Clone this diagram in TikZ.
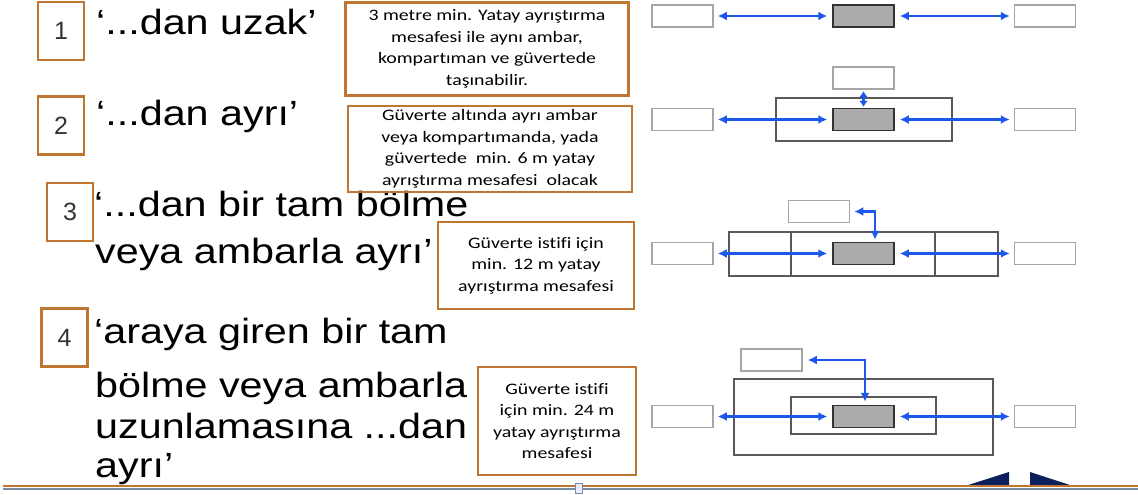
\documentclass[tikz,border=0pt]{standalone}
\usepackage{fontspec}
\setmainfont{Liberation Sans}
\newfontfamily\bigfont[FakeStretch=1.18]{Liberation Sans}
\newfontfamily\notefont[FakeStretch=1.24,Ligatures=NoCommon]{Carlito}
\usetikzlibrary{arrows.meta}
\definecolor{boxorange}{RGB}{192,118,48}
\definecolor{arrowblue}{RGB}{28,88,235}
\definecolor{cargogray}{RGB}{171,171,171}
\definecolor{navblue}{RGB}{12,32,92}
\definecolor{rulegray}{RGB}{120,140,165}
\tikzstyle{numbox} = [draw=boxorange, line width=2.5pt, minimum width=46pt,
    minimum height=58pt, inner sep=0pt, text=black!80,
    font=\fontsize{25}{25}\selectfont]
\tikzstyle{notebox} = [draw=boxorange, line width=2.5pt, inner sep=0pt,
    align=center, font=\notefont\fontsize{16}{21.5}\selectfont]
\tikzstyle{heading} = [anchor=base west, inner sep=0pt,
    font=\bigfont\fontsize{35}{40}\selectfont]
\tikzstyle{slot} = [draw=gray!70, line width=1.5pt, fill=white,
    minimum width=61pt, minimum height=22pt, inner sep=0pt]
\tikzstyle{cargo} = [slot, draw=gray!40!black, fill=cargogray]
\tikzstyle{hold} = [draw=black!65, line width=1.4pt, inner sep=0pt]
\tikzstyle{sep} = [arrowblue, line width=2.2pt,
    {Latex[length=9pt,width=9pt]}-{Latex[length=9pt,width=9pt]}]
\tikzstyle{shortsep} = [arrowblue, line width=2.2pt,
    {Latex[length=6pt,width=9pt]}-{Latex[length=6pt,width=9pt]}]

\begin{document}
\begin{tikzpicture}[x=1pt,y=-1pt]
  \useasboundingbox (0,0) rectangle (1138,495);

  % numbered boxes
  \node[numbox] (n1) at (61,31) {1};
  \node[numbox] (n2) at (61,125.5) {2};
  \node[numbox] (n3) at (70,212) {3};
  \node[numbox] (n4) at (64.5,337.5) {4};

  % headings
  \node[heading] (h1) at (96,35) {‘...dan uzak’};
  \node[heading] (h2) at (96,125) {‘...dan ayrı’};
  \node[heading] (h3a) at (94,216) {‘...dan bir tam bölme};
  \node[heading] (h3b) at (95,263) {veya ambarla ayrı’};
  \node[heading] (h4a) at (94,343) {‘araya giren bir tam};
  \node[heading] (h4b) at (95,397) {bölme veya ambarla};
  \node[heading] (h4c) at (95,438) {uzunlamasına ...dan};
  \node[heading] (h4d) at (95,477) {ayrı’};

  % notes
  \node[notebox, minimum width=283pt, minimum height=93pt] (t1) at (487,49)
    {3 metre min. Yatay ayrıştırma\\mesafesi ile aynı ambar,\\kompartıman ve güvertede\\taşınabilir.};
  \node[notebox, minimum width=284pt, minimum height=86pt] (t2) at (490,149)
    {Güverte altında ayrı ambar\\veya kompartımanda, yada\\güvertede~ min. 6 m yatay\\ayrıştırma mesafesi~ olacak};
  \node[notebox, minimum width=196pt, minimum height=87pt] (t3) at (536,265.5)
    {Güverte istifi için\\min. 12 m yatay\\ayrıştırma mesafesi};
  \node[notebox, minimum width=158pt, minimum height=108pt] (t4) at (557,421)
    {Güverte istifi\\için min. 24 m\\yatay ayrıştırma\\mesafesi};

  % row 1
  \node[slot] (l1) at (682.5,16) {};
  \node[cargo] (c1) at (863.5,16) {};
  \node[slot] (r1) at (1045,16) {};
  \draw[sep, shorten <=4pt, shorten >=5pt] (l1) -- (c1);
  \draw[sep, shorten <=5pt, shorten >=4pt] (c1) -- (r1);

  % row 2
  \node[hold, minimum width=176pt, minimum height=43pt] (k2) at (864,119.5) {};
  \node[slot] (l2) at (682.5,119.5) {};
  \node[cargo] (c2) at (863.5,119.5) {};
  \node[slot] (r2) at (1045,119.5) {};
  \node[slot] (u2) at (863.5,78) {};
  \draw[shortsep, shorten <=1.5pt, shorten >=1pt] (u2) -- (c2);
  \draw[sep, shorten <=4pt, shorten >=5pt] (l2) -- (c2);
  \draw[sep, shorten <=5pt, shorten >=4pt] (c2) -- (r2);

  % row 3
  \node[hold, minimum width=269pt, minimum height=44pt] (k3) at (863.5,254) {};
  \draw[hold] (791,232) -- (791,276);
  \draw[hold] (935,232) -- (935,276);
  \node[slot] (l3) at (682.5,253.5) {};
  \node[cargo] (c3) at (863.5,253.5) {};
  \node[slot] (r3) at (1045,253.5) {};
  \node[slot] (u3) at (819,211.5) {};
  \draw[sep, shorten <=4pt, shorten >=5pt] (l3) -- (c3);
  \draw[sep, shorten <=5pt, shorten >=4pt] (c3) -- (r3);
  \draw[sep, shorten <=4pt, shorten >=2pt] (u3.east) -| ([xshift=11.5pt]c3.north);

  % row 4
  \node[hold, minimum width=259pt, minimum height=76pt] (k4) at (863.5,417) {};
  \node[hold, minimum width=145pt, minimum height=37pt] (m4) at (863.5,415.5) {};
  \node[slot] (l4) at (682.5,416.5) {};
  \node[cargo] (c4) at (863.5,416.5) {};
  \node[slot] (r4) at (1045,416.5) {};
  \node[slot] (u4) at (771.5,360) {};
  \draw[sep, shorten <=4pt, shorten >=5pt] (l4) -- (c4);
  \draw[sep, shorten <=5pt, shorten >=4pt] (c4) -- (r4);
  \draw[sep, shorten <=5pt, shorten >=3pt] (u4.east) -| ([xshift=1.5pt]c4.north);

  % slide footer
  \fill[navblue] (965,486) -- (1009,472) -- (1009,486) -- cycle;
  \fill[navblue] (1030,472) -- (1073,486) -- (1030,486) -- cycle;
  \draw[rulegray, line width=2pt] (3,488.5) -- (1138,488.5);
  \draw[boxorange, line width=1.2pt] (3,486) -- (1138,486);
  \node[draw=rulegray, fill=blue!8, line width=1pt, minimum width=7pt,
    minimum height=10pt, inner sep=0pt] (pg) at (579,488) {};
\end{tikzpicture}
\end{document}
